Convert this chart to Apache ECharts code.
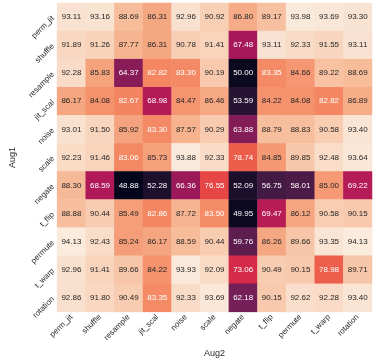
<!DOCTYPE html>
<html>
<head>
<meta charset="utf-8" />
<title>Aug heatmap</title>
<style>
  html, body { margin: 0; padding: 0; background: #fff; }
  #main { width: 374px; height: 363px; }
</style>
</head>
<body>
<div id="main"></div>
<script src="https://cdn.jsdelivr.net/npm/echarts@6/dist/echarts.min.js"></script>
<script>
// augmentation names (same on both axes)
var augs = ['perm_jit', 'shuffle', 'resample', 'jit_scal', 'noise', 'scale',
            'negate', 't_flip', 'permute', 't_warp', 'rotation'];

// one row per Aug1, columns follow Aug2
var rowPermJit  = [93.11, 93.16, 88.69, 86.31, 92.96, 90.92, 86.80, 89.17, 93.98, 93.69, 93.30];
var rowShuffle  = [91.89, 91.26, 87.77, 86.31, 90.78, 91.41, 67.48, 93.11, 92.33, 91.55, 93.11];
var rowResample = [92.28, 85.83, 64.37, 82.82, 83.30, 90.19, 50.00, 83.35, 84.66, 89.22, 88.69];
var rowJitScal  = [86.17, 84.08, 82.67, 68.98, 84.47, 86.46, 53.59, 84.22, 84.08, 82.82, 86.89];
var rowNoise    = [93.01, 91.50, 85.92, 83.30, 87.57, 90.29, 63.88, 88.79, 88.83, 90.58, 93.40];
var rowScale    = [92.23, 91.46, 83.06, 85.73, 93.88, 92.33, 78.74, 84.85, 89.85, 92.48, 93.64];
var rowNegate   = [88.30, 68.59, 48.88, 52.28, 66.36, 76.55, 52.09, 56.75, 58.01, 85.00, 69.22];
var rowTFlip    = [88.88, 90.44, 85.49, 82.86, 87.72, 83.50, 49.95, 69.47, 86.12, 90.58, 90.15];
var rowPermute  = [94.13, 92.43, 85.24, 86.17, 88.59, 90.44, 59.76, 86.26, 89.66, 93.35, 94.13];
var rowTWarp    = [92.96, 91.41, 89.66, 84.22, 93.93, 92.09, 73.06, 90.49, 90.15, 78.98, 89.71];
var rowRotation = [92.86, 91.80, 90.49, 83.35, 92.33, 93.69, 62.18, 90.15, 92.62, 92.28, 93.40];

var rows = [rowPermJit, rowShuffle, rowResample, rowJitScal, rowNoise, rowScale,
            rowNegate, rowTFlip, rowPermute, rowTWarp, rowRotation];

// rocket colormap stops
var rocket = ['#03051A', '#35193E', '#701F57', '#AD1759', '#E13342', '#F37651', '#F6B48F', '#FAEBDD'];

var data = [];
var vmin = Infinity, vmax = -Infinity;
rows.forEach(function (r, i) {
    r.forEach(function (v, j) {
        vmin = Math.min(vmin, v);
        vmax = Math.max(vmax, v);
        data.push({
            value: [j, i, v],
            label: { color: v < 84 ? '#ffffff' : '#262626' }
        });
    });
});

var font = 'Liberation Sans, Arial, sans-serif';
var chart = echarts.init(document.getElementById('main'));
chart.setOption({
    animation: false,
    grid: { left: 41, right: 2, top: 3, bottom: 39 },
    xAxis: {
        type: 'category',
        data: augs,
        name: 'Aug2',
        nameLocation: 'middle',
        nameGap: 30,
        nameTextStyle: { fontFamily: font, fontSize: 9, color: '#262626' },
        axisLine: { show: false },
        axisTick: { show: false },
        splitLine: { show: false },
        axisLabel: { rotate: 45, interval: 0, fontFamily: font, fontSize: 8, color: '#262626', margin: 4 }
    },
    yAxis: {
        type: 'category',
        data: augs,
        inverse: true,
        name: 'Aug1',
        nameLocation: 'middle',
        nameGap: 32,
        nameTextStyle: { fontFamily: font, fontSize: 9, color: '#262626' },
        axisLine: { show: false },
        axisTick: { show: false },
        splitLine: { show: false },
        axisLabel: { rotate: 45, interval: 0, fontFamily: font, fontSize: 8, color: '#262626', margin: 4 }
    },
    visualMap: {
        show: false,
        min: vmin,
        max: vmax,
        dimension: 2,
        inRange: { color: rocket }
    },
    series: [{
        type: 'heatmap',
        data: data,
        label: {
            show: true,
            fontFamily: font,
            fontSize: 8,
            formatter: function (p) { return p.value[2].toFixed(2); }
        }
    }]
});
</script>
</body>
</html>
